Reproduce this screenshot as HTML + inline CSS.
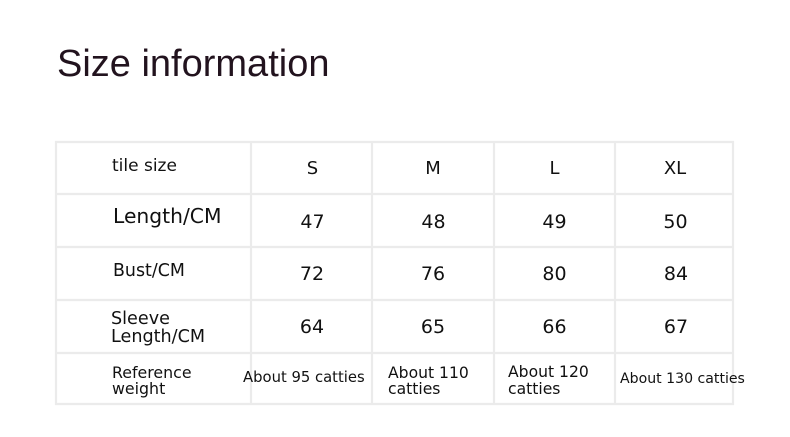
<!DOCTYPE html>
<html><head><meta charset="utf-8"><style>
html,body{margin:0;padding:0;background:#fff;}
svg{display:block;}
</style></head><body>
<svg width="790" height="437" viewBox="0 0 790 437" xmlns="http://www.w3.org/2000/svg">
<rect width="790" height="437" fill="#fff"/>
<text x="57" y="76" font-family="Liberation Sans, sans-serif" font-size="38" fill="#22131e">Size information</text>
<g stroke="#ebebeb" stroke-width="2.2">
<line x1="55" y1="142" x2="734" y2="142"/>
<line x1="55" y1="194" x2="734" y2="194"/>
<line x1="55" y1="247" x2="734" y2="247"/>
<line x1="55" y1="300" x2="734" y2="300"/>
<line x1="55" y1="353" x2="734" y2="353"/>
<line x1="55" y1="404" x2="734" y2="404"/>
<line x1="56" y1="141" x2="56" y2="405"/>
<line x1="251" y1="141" x2="251" y2="405"/>
<line x1="372" y1="141" x2="372" y2="405"/>
<line x1="494" y1="141" x2="494" y2="405"/>
<line x1="615" y1="141" x2="615" y2="405"/>
<line x1="733" y1="141" x2="733" y2="405"/>
</g>
<g font-family="DejaVu Sans, sans-serif" fill="#111">
<text x="112" y="171" font-size="17">tile size</text>
<g font-size="18" text-anchor="middle">
<text x="312.5" y="174">S</text>
<text x="433" y="174">M</text>
<text x="554.5" y="174">L</text>
<text x="675" y="174">XL</text>
</g>
<text x="113" y="223" font-size="20.3">Length/CM</text>
<g font-size="19" text-anchor="middle">
<text x="312.5" y="228">47</text>
<text x="433.5" y="228">48</text>
<text x="554.5" y="228">49</text>
<text x="675.5" y="228">50</text>
<text x="312" y="280">72</text>
<text x="433" y="280">76</text>
<text x="554.5" y="280">80</text>
<text x="676" y="280">84</text>
<text x="312" y="333">64</text>
<text x="433" y="333">65</text>
<text x="554.5" y="333">66</text>
<text x="676" y="333">67</text>
</g>
<text x="113" y="276" font-size="17.4">Bust/CM</text>
<text x="111" y="324" font-size="17.6">Sleeve</text>
<text x="111" y="342" font-size="17.6">Length/CM</text>
<text x="112" y="378" font-size="15.8">Reference</text>
<text x="112" y="394" font-size="15.8">weight</text>
<text x="243" y="382" font-size="14.8">About 95 catties</text>
<text x="388" y="378" font-size="15.6">About 110</text>
<text x="388" y="394" font-size="15.6">catties</text>
<text x="508" y="377" font-size="15.6">About 120</text>
<text x="508" y="394" font-size="15.6">catties</text>
<text x="620" y="383" font-size="14.1">About 130 catties</text>
</g>
</svg>
</body></html>
